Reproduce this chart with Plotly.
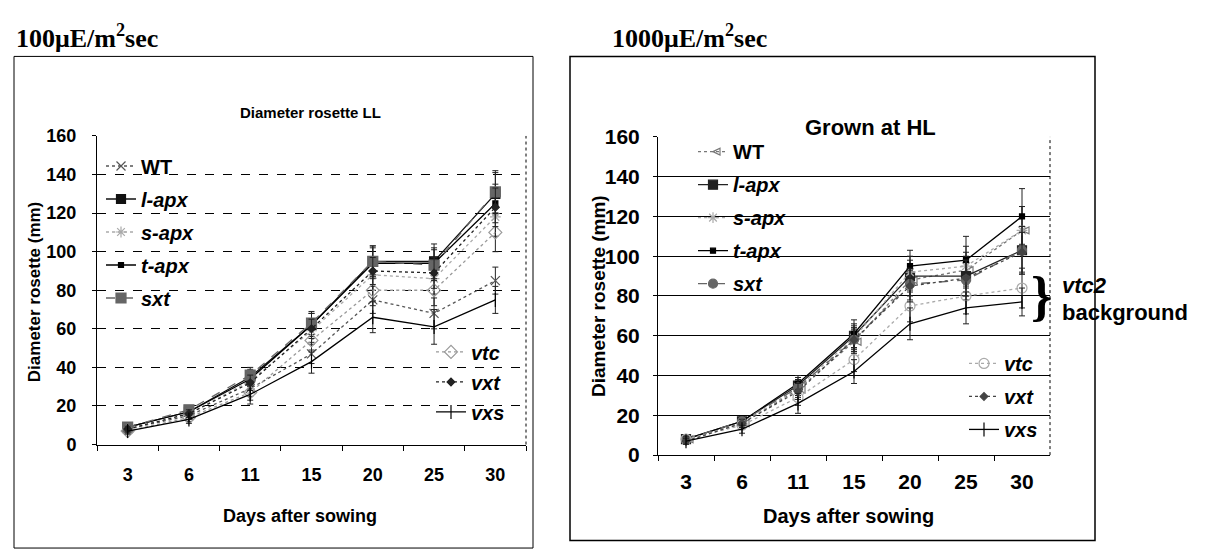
import plotly.graph_objects as go

days = ["3", "6", "11", "15", "20", "25", "30"]
series = ["WT", "l-apx", "s-apx", "t-apx", "sxt", "vtc", "vxt", "vxs"]

# Low light (100 uE) panel
ll_WT = [8, 15, 29, 47, 75, 68, 85]
ll_lapx = [9, 17, 35, 62, 95, 95, 130]
ll_sapx = [8, 16, 33, 59, 88, 86, 118]
ll_tapx = [9, 17, 34, 62, 94, 94, 125]
ll_sxt = [9, 18, 36, 63, 95, 93, 131]
ll_vtc = [7, 14, 27, 54, 80, 80, 110]
ll_vxt = [8, 16, 32, 60, 90, 89, 123]
ll_vxs = [7, 13, 26, 43, 66, 61, 75]
ll_err = {
    "WT": [1.5, 2, 4, 5, 7, 8, 7],
    "l-apx": [1.5, 2, 4, 6, 8, 9, 11],
    "s-apx": [1.5, 2, 4, 6, 8, 8, 10],
    "t-apx": [1.5, 2, 4, 6, 8, 8, 10],
    "sxt": [1.5, 2, 4, 6, 8, 8, 11],
    "vtc": [1.5, 2, 4, 6, 8, 8, 10],
    "vxt": [1.5, 2, 4, 5, 7, 8, 10],
    "vxs": [1.5, 2, 5, 6, 8, 9, 7],
}

# High light (1000 uE) panel
hl_WT = [8, 16, 33, 57, 88, 93, 113]
hl_lapx = [8, 17, 35, 60, 90, 90, 103]
hl_sapx = [8, 16, 34, 59, 92, 95, 113]
hl_tapx = [8, 17, 36, 61, 95, 98, 120]
hl_sxt = [8, 17, 34, 58, 86, 88, 103]
hl_vtc = [8, 15, 29, 48, 75, 80, 84]
hl_vxt = [7, 16, 32, 58, 85, 89, 102]
hl_vxs = [7, 13, 26, 42, 66, 74, 77]
hl_err = {
    "WT": [1.5, 2, 4, 6, 8, 9, 12],
    "l-apx": [1.5, 2, 4, 6, 8, 10, 12],
    "s-apx": [1.5, 2, 4, 6, 8, 10, 12],
    "t-apx": [1.5, 2, 4, 7, 8, 12, 14],
    "sxt": [1.5, 2, 4, 6, 8, 10, 12],
    "vtc": [1.5, 2, 4, 6, 8, 9, 10],
    "vxt": [1.5, 2, 4, 6, 8, 9, 10],
    "vxs": [1.5, 2, 5, 6, 8, 8, 7],
}

ll_vals = dict(zip(series, [ll_WT, ll_lapx, ll_sapx, ll_tapx, ll_sxt, ll_vtc, ll_vxt, ll_vxs]))
hl_vals = dict(zip(series, [hl_WT, hl_lapx, hl_sapx, hl_tapx, hl_sxt, hl_vtc, hl_vxt, hl_vxs]))

ll_style = {
    "WT": dict(color="#555555", dash="dot", symbol="x-thin-open", size=9),
    "l-apx": dict(color="#111111", dash="solid", symbol="square", size=9),
    "s-apx": dict(color="#aaaaaa", dash="dot", symbol="asterisk-open", size=9),
    "t-apx": dict(color="#000000", dash="solid", symbol="square", size=5),
    "sxt": dict(color="#666666", dash="dash", symbol="square-x", size=10),
    "vtc": dict(color="#999999", dash="dot", symbol="diamond-open", size=10),
    "vxt": dict(color="#222222", dash="dot", symbol="diamond", size=6),
    "vxs": dict(color="#000000", dash="solid", symbol="line-ns-open", size=10),
}
hl_style = {
    "WT": dict(color="#777777", dash="dot", symbol="arrow-left-open", size=7),
    "l-apx": dict(color="#222222", dash="solid", symbol="square", size=9),
    "s-apx": dict(color="#aaaaaa", dash="dot", symbol="asterisk-open", size=9),
    "t-apx": dict(color="#000000", dash="solid", symbol="square", size=5),
    "sxt": dict(color="#666666", dash="dash", symbol="circle-x", size=9),
    "vtc": dict(color="#aaaaaa", dash="dot", symbol="circle-open", size=10),
    "vxt": dict(color="#444444", dash="dot", symbol="diamond", size=6),
    "vxs": dict(color="#000000", dash="solid", symbol="line-ns-open", size=10),
}

W, H = 1206, 552
def px(x):
    return x / W
def py(y):
    return 1 - y / H

fig = go.Figure()

def label(name):
    return "<b>%s</b>" % name if name == "WT" else "<b><i>%s</i></b>" % name

for panel, vals, style, errs, xa, ya, legs in [
    ("LL", ll_vals, ll_style, ll_err, "x", "y", ("legend", "legend2")),
    ("HL", hl_vals, hl_style, hl_err, "x2", "y2", ("legend3", "legend4")),
]:
    for i, s in enumerate(series):
        st = style[s]
        fig.add_trace(go.Scatter(
            x=days, y=vals[s], xaxis=xa, yaxis=ya,
            name=label(s), legend=legs[0] if i < 5 else legs[1],
            legendgroup=panel + s,
            mode="lines+markers",
            line=dict(color=st["color"], dash=st["dash"], width=1.3),
            marker=dict(symbol=st["symbol"], size=st["size"], color=st["color"],
                        line=dict(color=st["color"], width=1.2)),
            error_y=dict(type="data", array=errs[s], visible=True,
                         color="#222222", thickness=1, width=3),
        ))

def tfont(size):
    return dict(family="Liberation Sans, Arial", size=size, color="black", weight="bold")

common_x = dict(type="category", range=[-0.5, 6.5], ticks="outside", tickson="boundaries",
                ticklen=5, tickcolor="black", showline=True, linecolor="black", linewidth=1,
                showgrid=False, zeroline=False)
common_y = dict(range=[0, 160], dtick=20, ticks="outside", ticklen=4, tickcolor="black",
                showline=True, linecolor="black", linewidth=1,
                zeroline=False, gridcolor="black", gridwidth=1)

fig.update_layout(
    width=W, height=H, margin=dict(l=0, r=0, t=0, b=0),
    paper_bgcolor="white", plot_bgcolor="white", showlegend=True,
    xaxis=dict(common_x, domain=[px(89), px(518)], anchor="y", tickfont=tfont(18),
               ticklabelstandoff=14),
    yaxis=dict(common_y, domain=[py(443), py(121)], anchor="x", griddash="dash",
               tickfont=tfont(18), ticklabelstandoff=12),
    xaxis2=dict(common_x, domain=[px(650), px(1042)], anchor="y2", tickfont=tfont(21),
                ticklabelstandoff=8),
    yaxis2=dict(common_y, domain=[py(454), py(122)], anchor="x2",
                tickfont=tfont(21), ticklabelstandoff=9),
)

leg_common = dict(bgcolor="rgba(0,0,0,0)", borderwidth=0, xanchor="left", yanchor="top",
                  traceorder="grouped", itemwidth=30,
                  font=dict(family="Liberation Sans, Arial", size=20, color="black"))
fig.update_layout(
    legend=dict(leg_common, x=px(93), y=py(132), tracegroupgap=4),
    legend2=dict(leg_common, x=px(423), y=py(326), tracegroupgap=1),
    legend3=dict(leg_common, x=px(685), y=py(117), tracegroupgap=4),
    legend4=dict(leg_common, x=px(956), y=py(338), tracegroupgap=4),
)

# panel frames
fig.add_shape(type="rect", xref="paper", yref="paper", x0=px(6), x1=px(525), y0=py(551), y1=py(38),
              line=dict(color="black", width=1))
fig.add_shape(type="rect", xref="paper", yref="paper", x0=px(562), x1=px(1087), y0=py(543), y1=py(38),
              line=dict(color="black", width=1.5))
fig.add_shape(type="line", xref="paper", yref="paper", x0=px(518), x1=px(518), y0=py(443), y1=py(121),
              line=dict(color="black", width=1, dash="dot"))
fig.add_shape(type="line", xref="paper", yref="paper", x0=px(1042), x1=px(1042), y0=py(454), y1=py(122),
              line=dict(color="black", width=1, dash="dot"))

def note(text, x, y, font, xanchor="center", yanchor="middle", angle=0):
    fig.add_annotation(text=text, x=px(x), y=py(y), xref="paper", yref="paper",
                       xanchor=xanchor, yanchor=yanchor, showarrow=False, font=font,
                       textangle=angle)

serif = dict(family="Liberation Serif, Times New Roman", size=26, color="black", weight="bold")
note("100μE/m<sup>2</sup>sec", 6, 17, serif, xanchor="left")
note("1000μE/m<sup>2</sup>sec", 602, 17, serif, xanchor="left")
note("Diameter rosette LL", 302, 97, tfont(15))
note("Grown at HL", 862, 112, tfont(22))
note("Days after sowing", 292, 518, tfont(18))
note("Days after sowing", 840, 518, tfont(20))
note("Diameter rosette (mm)", 26, 284, tfont(17), angle=-90)
note("Diameter rosette (mm)", 590, 288, tfont(19), angle=-90)
note("}", 1033, 288, dict(family="Liberation Serif", size=54, color="black", weight="bold"))
note("<i>vtc2</i>", 1052, 277, tfont(22), xanchor="left")
note("background", 1052, 305, tfont(22), xanchor="left")

fig.write_html("out.html")
